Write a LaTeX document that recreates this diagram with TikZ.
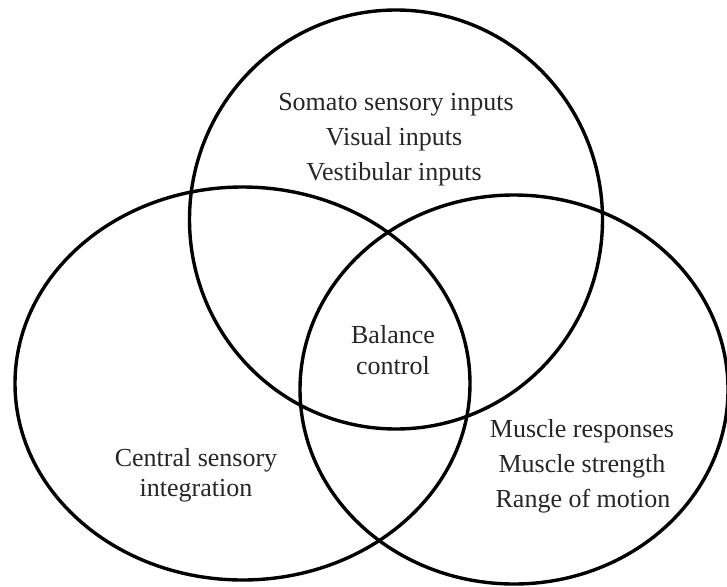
\documentclass[tikz,border=0pt]{standalone}
\usepackage{fontspec}
\setmainfont{Liberation Serif}
\begin{document}
\begin{tikzpicture}[x=1pt,y=-1pt,
  ring/.style={line width=3.4pt,draw=black},
  lbl/.style={anchor=base,inner sep=0pt,text=black!85,font=\fontsize{26}{30}\selectfont}]
\useasboundingbox (0,0) rectangle (727,586);
\draw[ring] (396,219.5) ellipse [x radius=206.5, y radius=209.5];
\draw[ring] (242.5,383.5) ellipse [x radius=227.5, y radius=196.5];
\draw[ring] (514,389.5) ellipse [x radius=214, y radius=194.5];
% top circle
\node[lbl] (t1) at (396,110) {Somato sensory inputs};
\node[lbl] (t2) at (394,145) {Visual inputs};
\node[lbl] (t3) at (394,180) {Vestibular inputs};
% centre
\node[lbl] (b1) at (393,343) {Balance};
\node[lbl] (b2) at (393,374) {control};
% left
\node[lbl] (c1) at (196,466) {Central sensory};
\node[lbl] (c2) at (196,496) {integration};
% right
\node[lbl] (m1) at (582,437) {Muscle responses};
\node[lbl] (m2) at (582,472) {Muscle strength};
\node[lbl] (m3) at (583,507) {Range of motion};
\end{tikzpicture}
\end{document}
